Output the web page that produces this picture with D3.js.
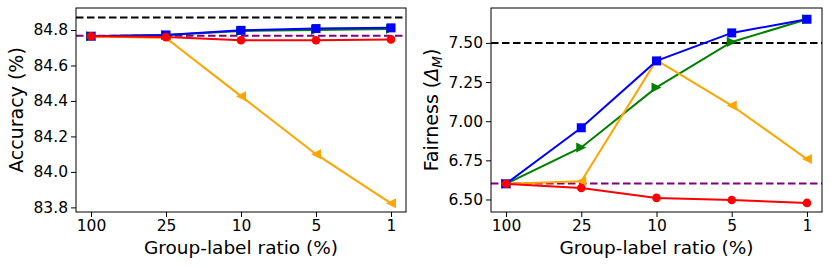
<!DOCTYPE html>
<html><head><meta charset="utf-8">
<script src="https://cdn.jsdelivr.net/npm/d3@7"></script>
<style>body{margin:0;background:#fff}svg{display:block}text{font-family:"DejaVu Sans",sans-serif}</style>
</head><body><svg id="c" width="831" height="269"></svg>
<script>
const categories = ["100","25","10","5","1"];
// Accuracy panel
const accBlue   = [84.765, 84.772, 84.798, 84.808, 84.812];
const accGreen  = [84.765, 84.772, 84.795, 84.800, 84.806];
const accOrange = [84.765, 84.755, 84.427, 84.100, 83.823];
const accRed    = [84.765, 84.760, 84.742, 84.742, 84.747];
const accBlack  = 84.871;
const accPurple = 84.767;
const accTicks  = [83.8, 84.0, 84.2, 84.4, 84.6, 84.8];
// Fairness panel
const fairBlue   = [6.600, 6.958, 7.385, 7.564, 7.651];
const fairGreen  = [6.600, 6.832, 7.216, 7.506, 7.651];
const fairOrange = [6.600, 6.617, 7.390, 7.100, 6.758];
const fairRed    = [6.600, 6.573, 6.510, 6.497, 6.478];
const fairBlack  = 7.50;
const fairPurple = 6.602;
const fairTicks  = [6.50, 6.75, 7.00, 7.25, 7.50];

const svg = d3.select("#c");

function panel(opts){
  const {x0,x1,y0,y1,ydom,ticks,fmt,series,black,purple,ylabel,ylx} = opts;
  const g = svg.append("g");
  const xs = d3.scaleLinear().domain([-0.2,4.2]).range([x0,x1]);
  const y = d3.scaleLinear().domain(ydom).range([y1,y0]);
  const cx = i => xs(i);
  g.append("line").attr("x1",x0).attr("x2",x1).attr("y1",y(black)).attr("y2",y(black))
    .attr("stroke","#000").attr("stroke-width",2).attr("stroke-dasharray","7.5,3.5");
  g.append("line").attr("x1",x0).attr("x2",x1).attr("y1",y(purple)).attr("y2",y(purple))
    .attr("stroke","#800080").attr("stroke-width",2).attr("stroke-dasharray","7.5,3.5");
  const line = d3.line().x((d,i)=>cx(i)).y(d=>y(d));
  series.forEach(s=>{
    g.append("path").datum(s.values).attr("d",line).attr("fill","none")
      .attr("stroke",s.color).attr("stroke-width",2);
    const m = g.append("g").attr("fill",s.color);
    s.values.forEach((v,i)=>{
      const px=cx(i), py=y(v);
      if(s.marker==="square") m.append("rect").attr("x",px-4.5).attr("y",py-4.5).attr("width",9).attr("height",9);
      else if(s.marker==="circle") m.append("circle").attr("cx",px).attr("cy",py).attr("r",4.3);
      else if(s.marker==="left") m.append("path").attr("d",`M${px-5},${py}L${px+5},${py-5}L${px+5},${py+5}Z`);
      else if(s.marker==="right") m.append("path").attr("d",`M${px+5},${py}L${px-5},${py-5}L${px-5},${py+5}Z`);
    });
  });
  const ya = g.append("g").attr("transform",`translate(${x0},0)`)
    .call(d3.axisLeft(y).tickValues(ticks).tickFormat(fmt).tickSize(5).tickPadding(3));
  const xa = g.append("g").attr("transform",`translate(0,${y1})`)
    .call(d3.axisBottom(xs).tickValues([0,1,2,3,4]).tickFormat(i=>categories[i]).tickSize(5).tickPadding(3));
  [ya,xa].forEach(a=>{a.select(".domain").remove();
    a.selectAll("text").attr("font-size",15.5).attr("fill","#000").style("font-family","DejaVu Sans");
    a.selectAll("line").attr("stroke","#000").attr("stroke-width",1);});
  g.append("rect").attr("x",x0).attr("y",y0).attr("width",x1-x0).attr("height",y1-y0)
    .attr("fill","none").attr("stroke","#000").attr("stroke-width",1);
  g.append("text").attr("x",(x0+x1)/2).attr("y",254).attr("text-anchor","middle")
    .attr("font-size",18.5).text("Group-label ratio (%)");
  const yl = g.append("text").attr("transform",`translate(${ylx},${(y0+y1)/2}) rotate(-90)`)
    .attr("text-anchor","middle").attr("font-size",19);
  ylabel(yl);
}

panel({x0:76,x1:406,y0:8,y1:212,ydom:[83.774,84.924],ticks:accTicks,fmt:d3.format(".1f"),
  black:accBlack,purple:accPurple,ylx:23,
  ylabel:t=>t.text("Accuracy (%)"),
  series:[
    {values:accOrange,color:"#ffa500",marker:"left"},
    {values:accGreen,color:"#008000",marker:"right"},
    {values:accBlue,color:"#0000ff",marker:"square"},
    {values:accRed,color:"#ff0000",marker:"circle"}]});

panel({x0:491,x1:822,y0:8,y1:212,ydom:[6.42,7.723],ticks:fairTicks,fmt:d3.format(".2f"),
  black:fairBlack,purple:fairPurple,ylx:438,
  ylabel:t=>{t.append("tspan").text("Fairness (");
    t.append("tspan").attr("font-style","italic").text("Δ");
    t.append("tspan").attr("font-style","italic").attr("font-size",13.5).attr("dy",4).text("M");
    t.append("tspan").attr("dy",-4).text(")");},
  series:[
    {values:fairGreen,color:"#008000",marker:"right"},
    {values:fairOrange,color:"#ffa500",marker:"left"},
    {values:fairBlue,color:"#0000ff",marker:"square"},
    {values:fairRed,color:"#ff0000",marker:"circle"}]});
</script></body></html>
